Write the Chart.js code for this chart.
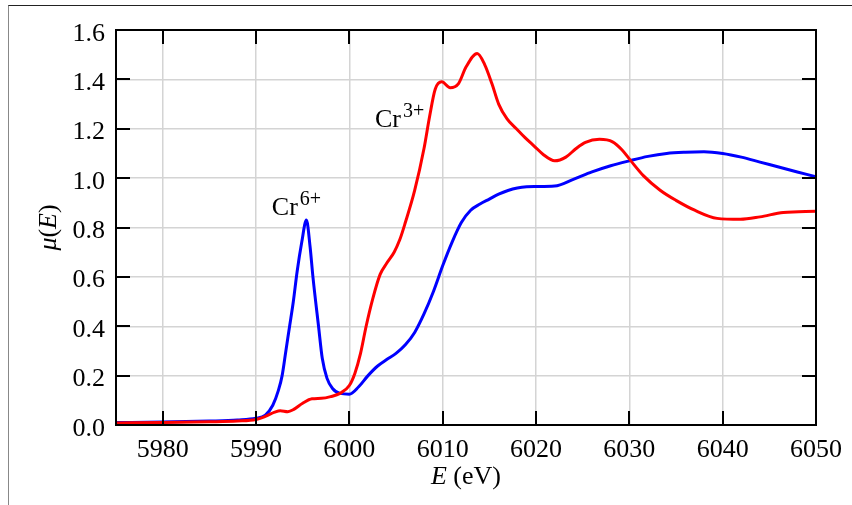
<!DOCTYPE html>
<html>
<head>
<meta charset="utf-8">
<script src="https://cdn.jsdelivr.net/npm/chart.js@4.4.1/dist/chart.umd.min.js"></script>
<style>
  html, body { margin: 0; padding: 0; background: #fff; }
  #wrap { position: relative; width: 852px; height: 505px; }
  #frame { position: absolute; left: 8px; top: 5px; right: 0; bottom: 0;
           border-top: 1.5px solid #222; border-left: 1px solid #888; pointer-events: none; }
</style>
</head>
<body>
<div id="wrap">
  <canvas id="xanes" width="852" height="505"></canvas>
  <div id="frame"></div>
</div>
<script>
// Cr K-edge XANES spectra: Cr(VI) with its pre-edge peak, and Cr(III)
const energyCr6 = [5975, 5980, 5985, 5988, 5990, 5991, 5991.8, 5992.4, 5992.8, 5993.2,
  5993.6, 5994.0, 5994.4, 5994.9, 5995.4, 5995.8, 5996.1, 5996.7, 5997.1, 5997.6,
  5998.2, 5999.0, 6000.0, 6001.0, 6002.0, 6003.0, 6004.0, 6005.0, 6006.0, 6007.0,
  6008.0, 6009.0, 6010.0, 6011.0, 6012.0, 6013.0, 6014.0, 6015.0, 6016.0, 6017.0,
  6018.0, 6019.0, 6020.0, 6022.0, 6024.0, 6026.0, 6028.0, 6030.0, 6032.0, 6034.0,
  6036.0, 6038.0, 6040.0, 6042.0, 6044.0, 6046.0, 6048.0, 6050.0];
const muCr6 = [0.010, 0.012, 0.016, 0.020, 0.027, 0.040, 0.08, 0.14, 0.20, 0.30,
  0.40, 0.50, 0.62, 0.74, 0.83, 0.72, 0.60, 0.40, 0.27, 0.19,
  0.148, 0.128, 0.125, 0.155, 0.20, 0.238, 0.265, 0.29, 0.325, 0.375,
  0.45, 0.54, 0.645, 0.74, 0.82, 0.87, 0.895, 0.915, 0.935, 0.95,
  0.96, 0.965, 0.966, 0.968, 0.995, 1.025, 1.05, 1.07, 1.088, 1.10,
  1.105, 1.107, 1.10, 1.085, 1.065, 1.045, 1.025, 1.005];

const energyCr3 = [5975, 5980, 5985, 5988, 5990, 5991, 5992, 5992.6, 5993.4, 5994.0,
  5995.0, 5996.0, 5997.0, 5998.0, 5999.0, 6000.0, 6000.6, 6001.2, 6001.8, 6002.5,
  6003.3, 6004.0, 6004.8, 6005.4, 6006.0, 6007.0, 6008.0, 6008.6, 6009.2, 6009.9,
  6010.8, 6011.7, 6012.5, 6013.7, 6014.5, 6015.3, 6016.0, 6016.9, 6017.9, 6018.8,
  6019.8, 6020.8, 6022.0, 6023.2, 6024.3, 6025.3, 6026.8, 6028.2, 6029.2, 6030.1,
  6031.5, 6033.3, 6035.0, 6037.0, 6039.4, 6041.9, 6044.0, 6046.5, 6050.0];
const muCr3 = [0.008, 0.010, 0.013, 0.016, 0.022, 0.035, 0.052, 0.058, 0.054, 0.062,
  0.088, 0.106, 0.108, 0.115, 0.128, 0.16, 0.21, 0.29, 0.40, 0.51,
  0.61, 0.655, 0.70, 0.75, 0.82, 0.95, 1.12, 1.25, 1.36, 1.39,
  1.366, 1.383, 1.45, 1.505, 1.46, 1.38, 1.30, 1.24, 1.20, 1.165,
  1.13, 1.095, 1.07, 1.085, 1.12, 1.145, 1.157, 1.147, 1.115, 1.073,
  1.01, 0.951, 0.91, 0.87, 0.837, 0.833, 0.843, 0.861, 0.866];

const xTicks = [5980, 5990, 6000, 6010, 6020, 6030, 6040, 6050];
const yTicks = [0.0, 0.2, 0.4, 0.6, 0.8, 1.0, 1.2, 1.4, 1.6];

// label text, anchor (energy, mu) at the left end of the baseline
const labelNames = ['Cr', 'Cr'];
const labelCharges = ['6+', '3+'];
const labelAnchors = [[5991.7, 0.85], [6002.75, 1.206]];

const SERIF = "'Liberation Serif', 'DejaVu Serif', serif";
const FS = 26;

const toPoints = (xs, ys) => xs.map((x, i) => ({ x: x, y: ys[i] }));

// frame, inward ticks, tick labels, axis titles and the oxidation-state labels
const decorations = {
  id: 'decorations',
  afterDraw(chart) {
    const { ctx, chartArea: a, scales: { x, y } } = chart;
    const tick = 14;
    const upright = FS + 'px ' + SERIF;
    const italic = 'italic ' + upright;
    ctx.save();
    ctx.strokeStyle = '#000';
    ctx.lineWidth = 2;
    ctx.lineCap = 'square';
    ctx.strokeRect(a.left, a.top, a.right - a.left, a.bottom - a.top);

    ctx.lineCap = 'butt';
    ctx.beginPath();
    xTicks.slice(0, -1).forEach(v => {
      const px = Math.round(x.getPixelForValue(v));
      ctx.moveTo(px, a.bottom); ctx.lineTo(px, a.bottom - tick);
      ctx.moveTo(px, a.top); ctx.lineTo(px, a.top + tick);
    });
    yTicks.slice(1, -1).forEach(v => {
      const py = Math.round(y.getPixelForValue(v));
      ctx.moveTo(a.left, py); ctx.lineTo(a.left + tick, py);
      ctx.moveTo(a.right, py); ctx.lineTo(a.right - tick, py);
    });
    ctx.stroke();

    ctx.fillStyle = '#000';
    ctx.textBaseline = 'alphabetic';
    ctx.font = upright;

    // tick labels
    ctx.textAlign = 'center';
    xTicks.forEach(v => ctx.fillText(String(v), x.getPixelForValue(v), a.bottom + 32));
    ctx.textAlign = 'right';
    yTicks.forEach(v => ctx.fillText(v.toFixed(1), a.left - 11, y.getPixelForValue(v) + 10.5));
    ctx.textAlign = 'left';

    // x title: E (eV)
    ctx.font = italic;
    const wE = ctx.measureText('E').width;
    ctx.font = upright;
    const wRest = ctx.measureText(' (eV)').width;
    const tx = (a.left + a.right) / 2 - (wE + wRest) / 2;
    const ty = 484;
    ctx.font = italic; ctx.fillText('E', tx, ty);
    ctx.font = upright; ctx.fillText(' (eV)', tx + wE, ty);

    // y title: mu(E), rotated
    const parts = [['μ', italic], ['(', upright], ['E', italic], [')', upright]];
    let total = 0;
    parts.forEach(p => { ctx.font = p[1]; total += ctx.measureText(p[0]).width; });
    ctx.save();
    ctx.translate(56, (a.top + a.bottom) / 2);
    ctx.rotate(-Math.PI / 2);
    let cx = -total / 2;
    parts.forEach(p => {
      ctx.font = p[1];
      ctx.fillText(p[0], cx, 0);
      cx += ctx.measureText(p[0]).width;
    });
    ctx.restore();

    // Cr^n+ labels
    labelAnchors.forEach((pt, i) => {
      const lx = x.getPixelForValue(pt[0]);
      const ly = y.getPixelForValue(pt[1]);
      ctx.font = '26px ' + SERIF;
      ctx.fillText(labelNames[i], lx, ly);
      const w = ctx.measureText(labelNames[i]).width;
      ctx.font = '20px ' + SERIF;
      ctx.fillText(labelCharges[i], lx + w + 2, ly - 10);
    });
    ctx.restore();
  }
};

new Chart(document.getElementById('xanes'), {
  type: 'line',
  data: {
    datasets: [
      {
        label: 'Cr6+',
        data: toPoints(energyCr6, muCr6),
        borderColor: '#0000ff',
        borderWidth: 3,
        pointRadius: 0,
        cubicInterpolationMode: 'monotone',
        order: 1
      },
      {
        label: 'Cr3+',
        data: toPoints(energyCr3, muCr3),
        borderColor: '#ff0000',
        borderWidth: 3,
        pointRadius: 0,
        cubicInterpolationMode: 'monotone',
        order: 0
      }
    ]
  },
  options: {
    responsive: false,
    animation: false,
    layout: { padding: { left: 0, top: 30, right: 36, bottom: 0 } },
    plugins: {
      legend: { display: false },
      tooltip: { enabled: false }
    },
    scales: {
      x: {
        type: 'linear',
        min: 5975,
        max: 6050,
        afterBuildTicks: s => { s.ticks = xTicks.map(v => ({ value: v })); },
        afterFit: s => { s.height = 80; },
        border: { display: false },
        grid: { color: '#d4d4d4', lineWidth: 1.5, drawTicks: false },
        ticks: { display: false }
      },
      y: {
        min: 0,
        max: 1.6,
        afterBuildTicks: s => { s.ticks = yTicks.map(v => ({ value: v })); },
        afterFit: s => { s.width = 116; },
        border: { display: false },
        grid: { color: '#d4d4d4', lineWidth: 1.5, drawTicks: false },
        ticks: { display: false }
      }
    }
  },
  plugins: [decorations]
});
</script>
</body>
</html>
